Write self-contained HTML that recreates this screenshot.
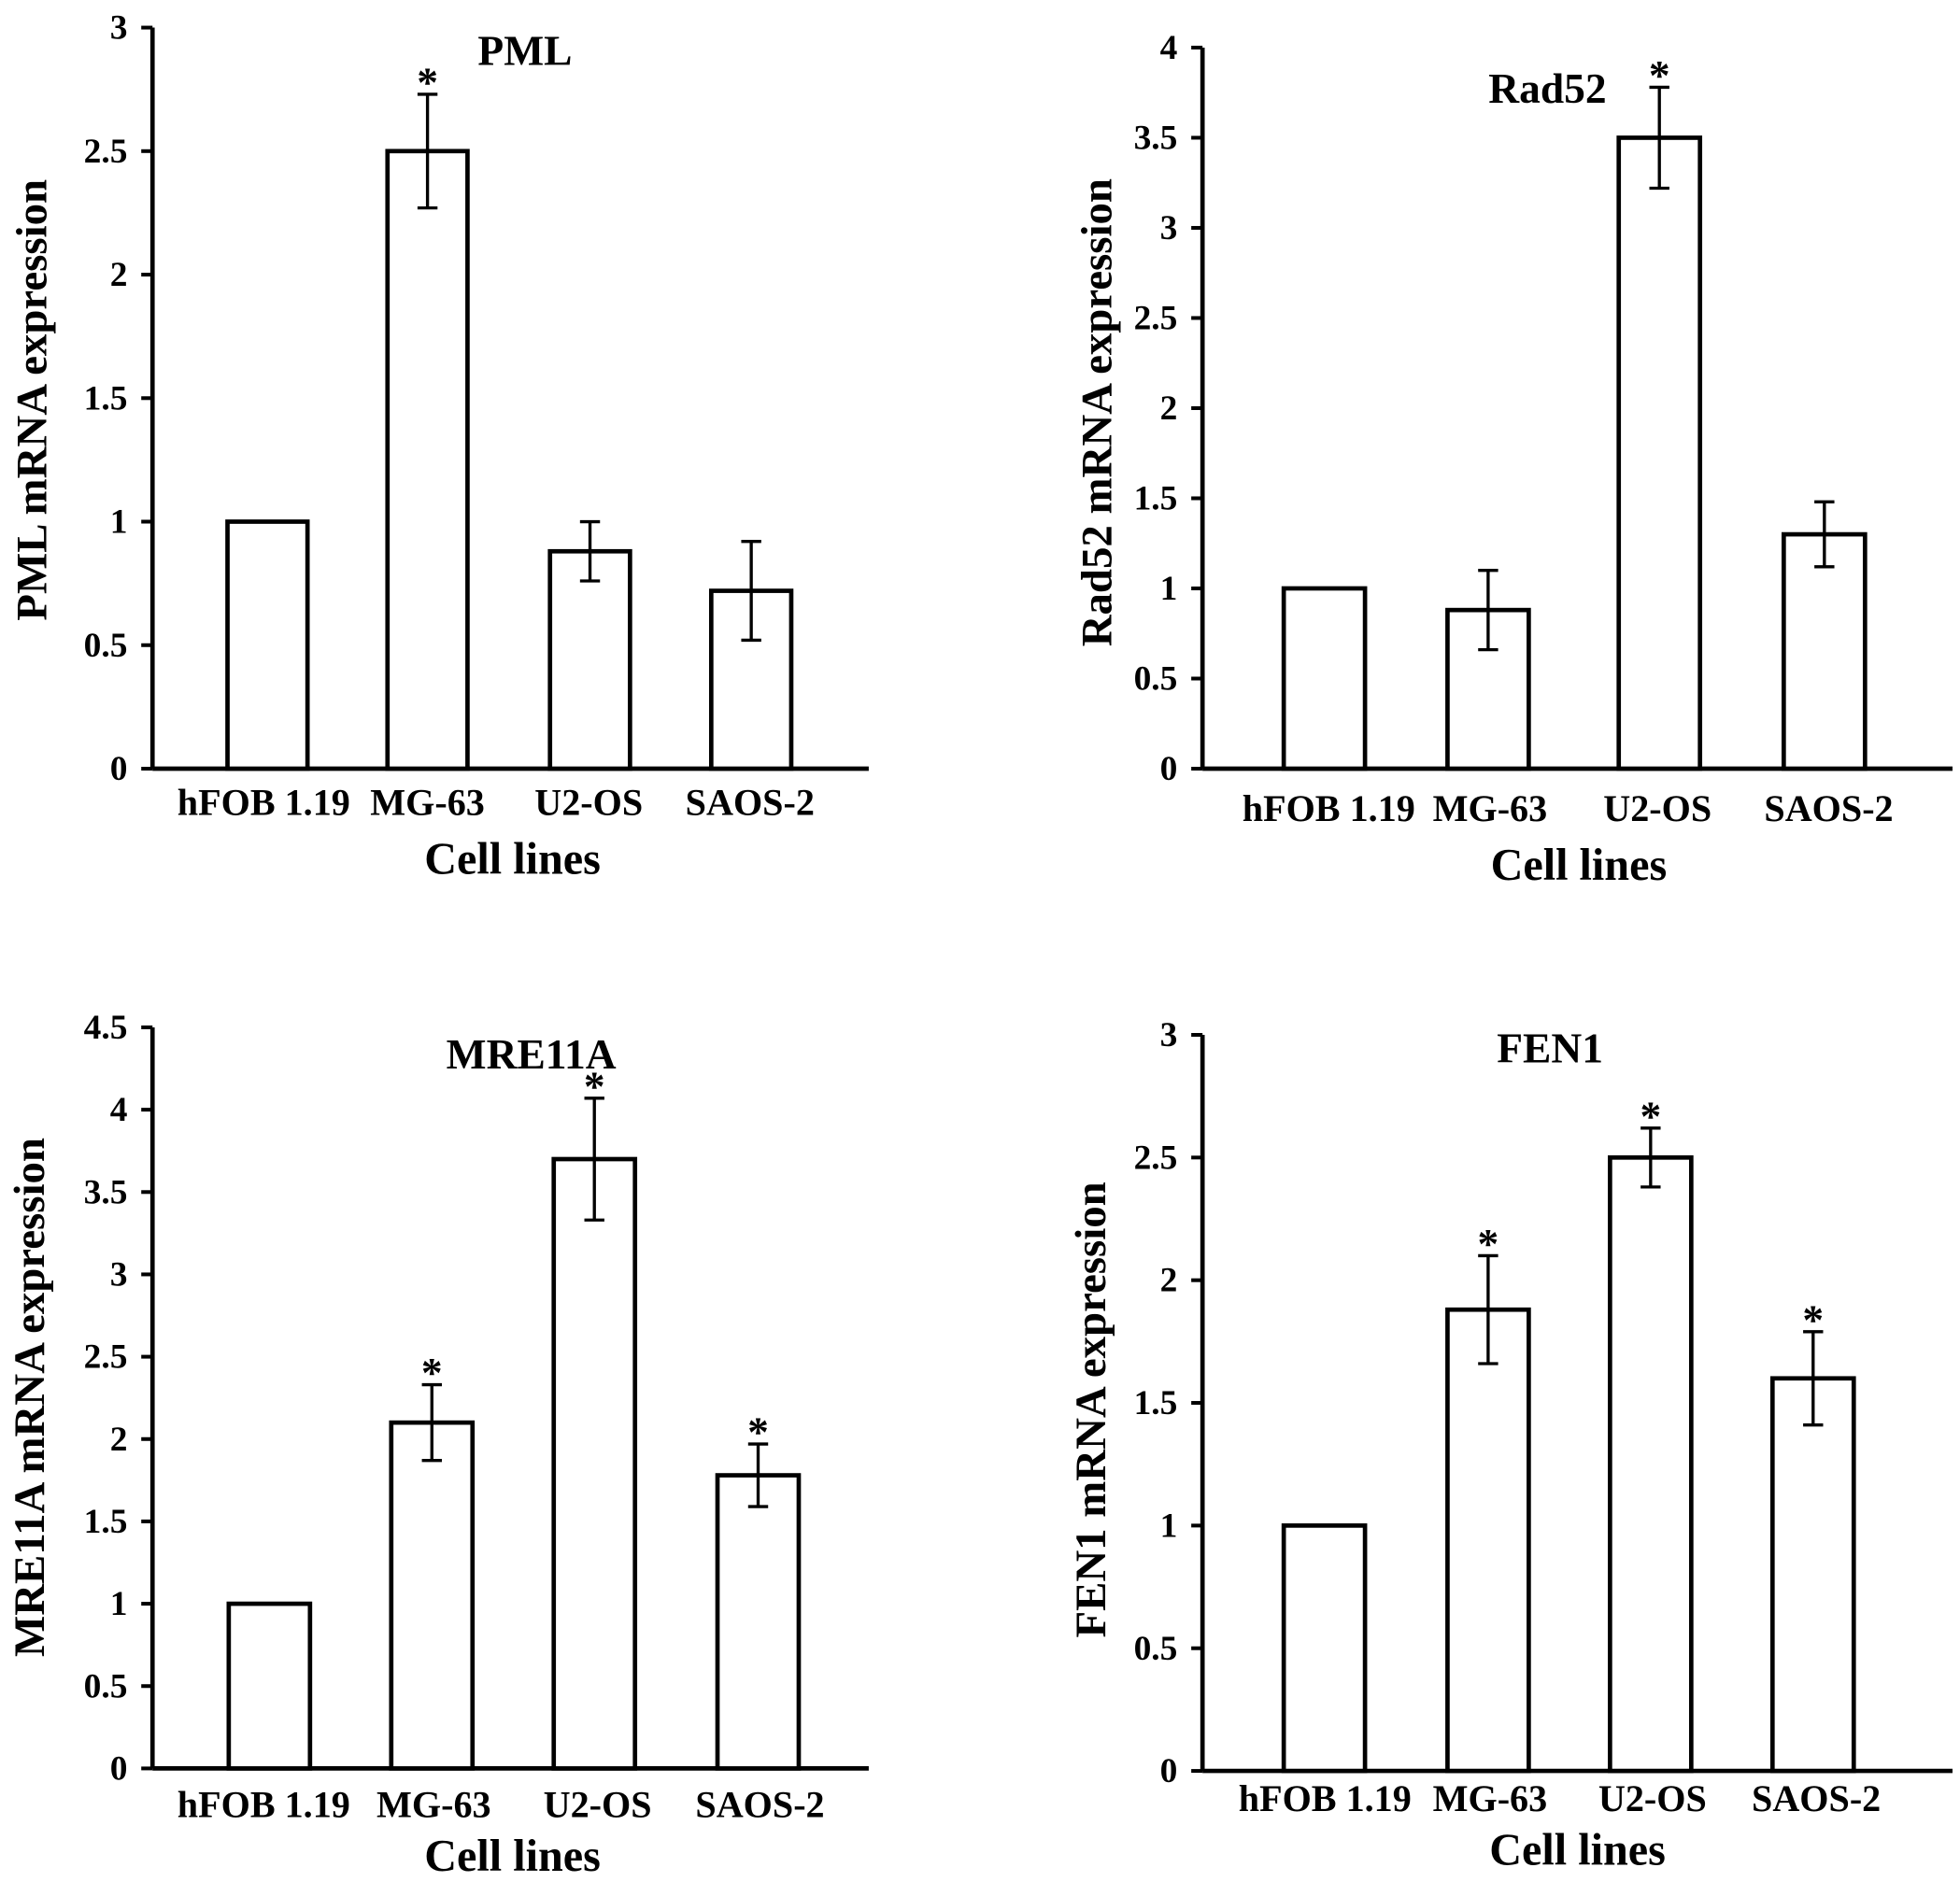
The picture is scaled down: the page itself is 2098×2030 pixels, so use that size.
<!DOCTYPE html>
<html><head><meta charset="utf-8"><style>
html,body{margin:0;padding:0;background:#fff}
svg{display:block}
text{font-family:"Liberation Serif",serif;font-weight:bold;fill:#000}
</style></head><body>
<svg id="chart" width="2098" height="2030" viewBox="0 0 1568 1517" xmlns="http://www.w3.org/2000/svg"></svg>
<script>
const categories = ["hFOB 1.19","MG-63","U2-OS","SAOS-2"];
const titles = ["PML","Rad52","MRE11A","FEN1"];
const pmlValues = [1, 2.5, 0.88, 0.72];
const pmlErrors = [0, 0.23, 0.12, 0.2];
const pmlStars = [false, true, false, false];
const rad52Values = [1, 0.88, 3.5, 1.3];
const rad52Errors = [0, 0.22, 0.28, 0.18];
const rad52Stars = [false, false, true, false];
const mre11aValues = [1, 2.1, 3.7, 1.78];
const mre11aErrors = [0, 0.23, 0.37, 0.19];
const mre11aStars = [false, true, true, true];
const fen1Values = [1, 1.88, 2.5, 1.6];
const fen1Errors = [0, 0.22, 0.12, 0.19];
const fen1Stars = [false, true, true, true];
const pmlTicks = ["0","0.5","1","1.5","2","2.5","3"];
const rad52Ticks = ["0","0.5","1","1.5","2","2.5","3","3.5","4"];
const mre11aTicks = ["0","0.5","1","1.5","2","2.5","3","3.5","4","4.5"];
const fen1Ticks = ["0","0.5","1","1.5","2","2.5","3"];

const NS="http://www.w3.org/2000/svg";
const svg=document.getElementById('chart');
function mk(tag,attrs,parent){const e=document.createElementNS(NS,tag);for(const k in attrs)e.setAttribute(k,attrs[k]);(parent||svg).appendChild(e);return e;}

const panels=[
 {name:'pml',values:pmlValues,errors:pmlErrors,stars:pmlStars,ticks:pmlTicks,ax:122,top:22,bot:615,right:695,bars:[182,310,440,569],bw:64,tx:420,ty:52,lx:[211,342,471,600],ly:652,cy:699,cx:410,yx:37,yy:320},
 {name:'rad52',values:rad52Values,errors:rad52Errors,stars:rad52Stars,ticks:rad52Ticks,ax:962,top:38,bot:615,right:1562,bars:[1027,1158,1295,1427],bw:65,tx:1238,ty:82,lx:[1063,1192,1326,1463],ly:657,cy:704,cx:1263,yx:889,yy:330},
 {name:'mre11a',values:mre11aValues,errors:mre11aErrors,stars:mre11aStars,ticks:mre11aTicks,ax:122,top:822,bot:1415,right:695,bars:[183,313,443,574],bw:65,tx:425,ty:855,lx:[211,347,478,608],ly:1454,cy:1497,cx:410,yx:35,yy:1118},
 {name:'fen1',values:fen1Values,errors:fen1Errors,stars:fen1Stars,ticks:fen1Ticks,ax:962,top:828,bot:1417,right:1562,bars:[1027,1158,1288,1418],bw:65,tx:1240,ty:850,lx:[1060,1192,1322,1453],ly:1449,cy:1492,cx:1262,yx:884,yy:1128}
];
panels.forEach((p,pi)=>{
 const g=mk('g',{});
 
 
 const maxV=parseFloat(p.ticks[p.ticks.length-1]);
 const y=v=>p.bot-(v/maxV)*(p.bot-p.top);
 const ya=mk('line',{x1:p.ax,y1:p.top,x2:p.ax,y2:p.bot,stroke:'#000','stroke-width':3.5},g);
 
 
 const xa=mk('line',{x1:p.ax,y1:p.bot,x2:p.right,y2:p.bot,stroke:'#000','stroke-width':3.5},g);
 
 
 p.ticks.forEach(t=>{
  const yy=y(parseFloat(t));
  mk('line',{x1:p.ax-9,y1:yy,x2:p.ax,y2:yy,stroke:'#000','stroke-width':3},g);
  const tl=mk('text',{x:p.ax-20,y:yy+9,'text-anchor':'end','font-size':28},g);
  tl.textContent=t;
  
  
 });
 p.values.forEach((v,i)=>{
  const x=p.bars[i];
  const b=mk('rect',{x:x,y:y(v),width:p.bw,height:p.bot-y(v),fill:'#fff',stroke:'#000','stroke-width':3.5},g);
  
  
  const e=p.errors[i];
  if(e>0){
   const cx=x+p.bw/2;
   const eg=mk('g',{stroke:'#000','stroke-width':2.5},g);
   
   
   mk('line',{x1:cx,y1:y(v+e),x2:cx,y2:y(v-e)},eg);
   mk('line',{x1:cx-8,y1:y(v+e),x2:cx+8,y2:y(v+e)},eg);
   mk('line',{x1:cx-8,y1:y(v-e),x2:cx+8,y2:y(v-e)},eg);
  }
  if(p.stars[i]){
   const s=mk('text',{x:x+p.bw/2,y:y(v+e)+2,'text-anchor':'middle','font-size':34,'font-weight':'normal'},g);
   s.textContent='*';
   
   
  }
  const xl=mk('text',{x:p.lx[i],y:p.ly,'text-anchor':'middle','font-size':30},g);
  xl.textContent=categories[i];
  
  
 });
 const tt=mk('text',{x:p.tx,y:p.ty,'text-anchor':'middle','font-size':34},g);
 tt.textContent=titles[pi];
 
 
 const xt=mk('text',{x:p.cx,y:p.cy,'text-anchor':'middle','font-size':36},g);
 xt.textContent='Cell lines';
 
 
 const yt=mk('text',{x:p.yx,y:p.yy,'text-anchor':'middle','font-size':35,transform:'rotate(-90 '+p.yx+' '+p.yy+')'},g);
 yt.textContent=titles[pi]+' mRNA expression';
 
 
});
</script>
</body></html>
